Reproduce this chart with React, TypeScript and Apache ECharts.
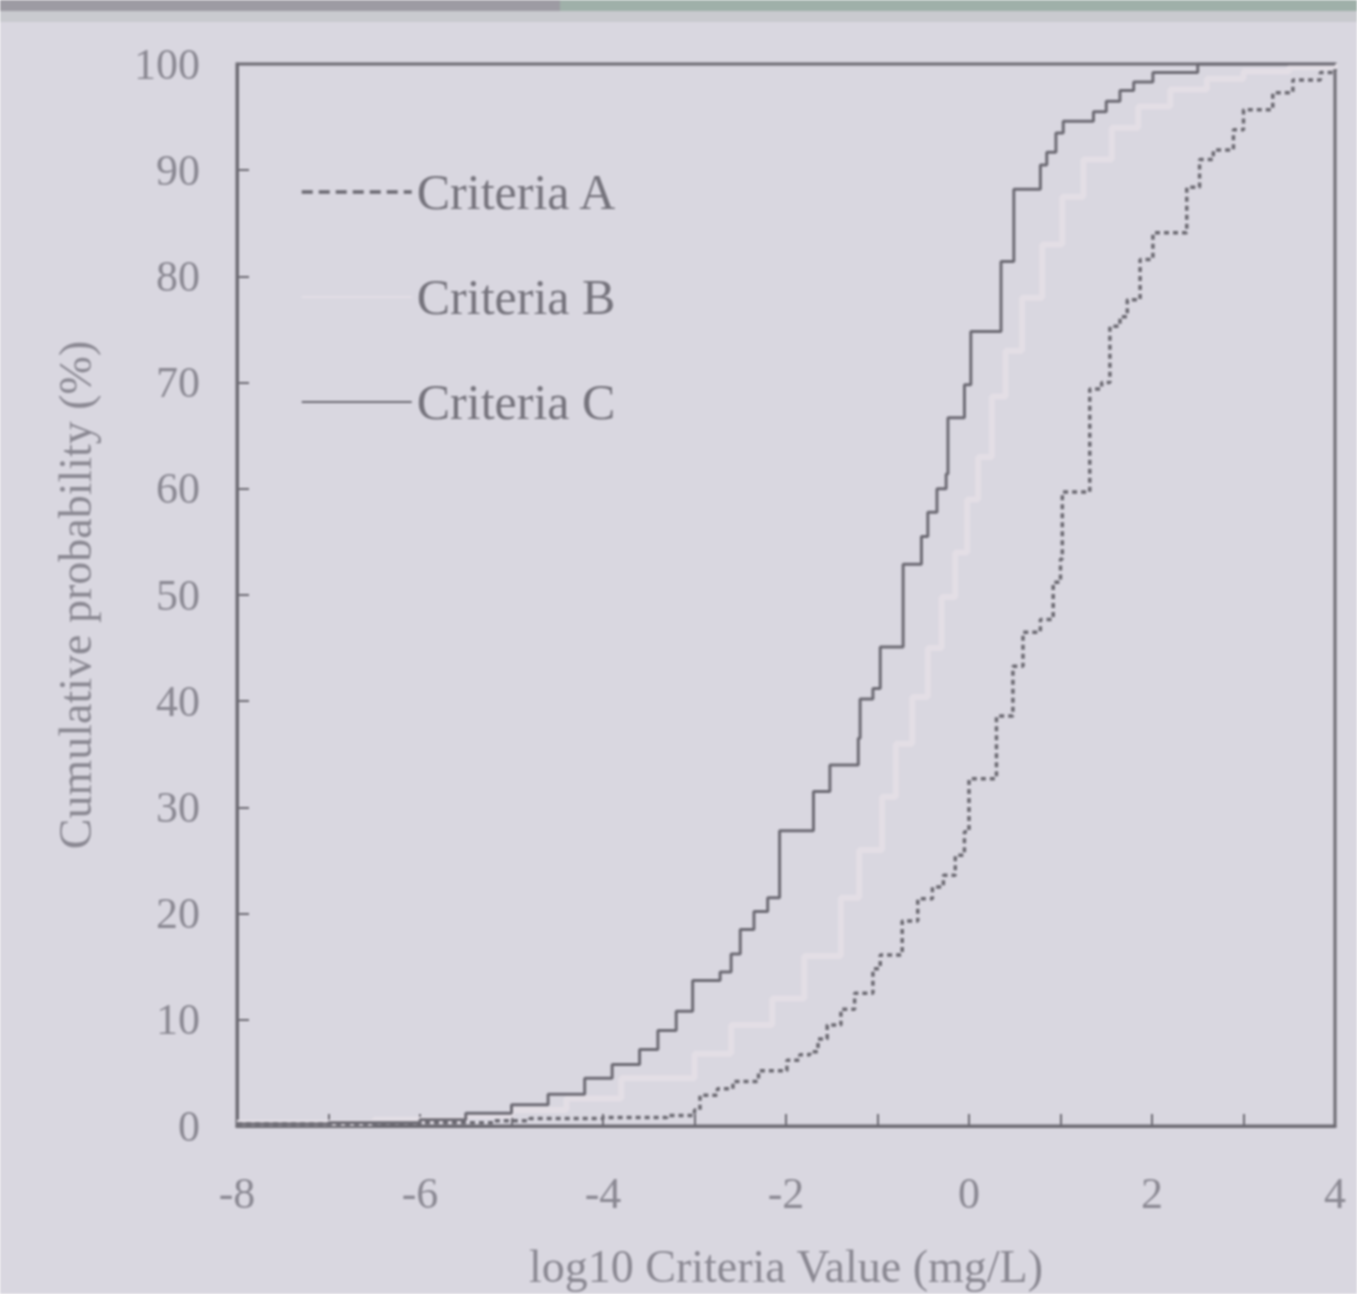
import React, { useEffect, useRef } from "react";
import * as echarts from "echarts";

const seriesNames = ["Criteria A", "Criteria B", "Criteria C"];

const xTicks = [-8, -6, -4, -2, 0, 2, 4];
const yTicks = [0, 10, 20, 30, 40, 50, 60, 70, 80, 90, 100];

// Criteria A (dashed) : [log10 value, cumulative %]
const criteriaA: [number, number][] = [
  [-8, 0.2], [-6, 0.3], [-5.2, 0.5], [-4.8, 0.7], [-4, 0.8], [-3.3, 1.0], [-3.0, 1.5],
  [-2.94, 2.9], [-2.75, 3.5], [-2.58, 4.2], [-2.3, 5.2], [-1.99, 6.2], [-1.85, 6.7],
  [-1.74, 7.0], [-1.65, 8.2], [-1.55, 9.5], [-1.4, 11.0], [-1.25, 12.5], [-1.05, 14.8],
  [-0.97, 16.1], [-0.73, 19.3], [-0.56, 21.4], [-0.4, 22.5], [-0.28, 23.6], [-0.15, 25.5],
  [-0.05, 27.7], [0.0, 32.7], [0.3, 38.6], [0.48, 43.3], [0.59, 46.5], [0.78, 47.7],
  [0.92, 51.2], [1.0, 53.4], [1.02, 59.7], [1.32, 69.4], [1.45, 70.0], [1.54, 75.3],
  [1.65, 76.2], [1.73, 77.8], [1.87, 81.6], [2.01, 84.1], [2.38, 88.4], [2.52, 91.0],
  [2.67, 91.9], [2.89, 93.8], [3.0, 95.7], [3.32, 97.3], [3.54, 98.5], [3.84, 99.2], [4.0, 99.5],
];

// Criteria B (faint light line)
const criteriaB: [number, number][] = [
  [-8, 0.3], [-6.5, 0.6], [-5.5, 1.0], [-5, 1.5], [-4.4, 2.6], [-3.8, 4.5], [-3.0, 6.8],
  [-2.6, 9.5], [-2.15, 12], [-1.8, 16], [-1.4, 21.5], [-1.2, 26], [-0.95, 31], [-0.8, 36],
  [-0.62, 40.4], [-0.45, 45], [-0.3, 49.8], [-0.15, 54], [-0.02, 59], [0.1, 63], [0.25, 68.7],
  [0.4, 73], [0.58, 78], [0.8, 83], [1.02, 87.5], [1.25, 91], [1.56, 94], [1.85, 96],
  [2.2, 97.6], [2.6, 98.6], [3, 99.3], [3.5, 99.7], [4, 100],
];

// Criteria C (solid dark)
const criteriaC: [number, number][] = [
  [-8, 0.2], [-7, 0.3], [-6, 0.6], [-5.5, 1.2], [-5.0, 2.0], [-4.6, 3.0], [-4.2, 4.5],
  [-3.9, 5.8], [-3.6, 7.2], [-3.4, 9.0], [-3.2, 10.8], [-3.02, 13.7], [-2.72, 14.5],
  [-2.6, 16.2], [-2.5, 18.5], [-2.35, 20.2], [-2.2, 21.5], [-2.07, 27.8], [-1.70, 31.5],
  [-1.52, 34.0], [-1.21, 36.5], [-1.19, 40.2], [-1.05, 41.2], [-0.97, 45.1], [-0.72, 52.9],
  [-0.52, 55.5], [-0.45, 57.8], [-0.35, 60], [-0.25, 61.4], [-0.23, 66.7], [-0.05, 69.8],
  [0.02, 74.8], [0.35, 81.4], [0.49, 88.2], [0.78, 90.5], [0.85, 91.7], [0.95, 93.5],
  [1.03, 94.6], [1.36, 95.5], [1.5, 96.5], [1.65, 97.5], [1.8, 98.3], [2.01, 99.2],
  [2.5, 100], [4, 100],
];

const FONT = "'Liberation Serif', 'DejaVu Serif', serif";
const LABEL_COLOR = "#8a8892";
const AXIS_COLOR = "#6c6a72";
const A_COLOR = "#6a6870";
const B_COLOR = "#e3dee5";
const C_COLOR = "#6c6a73";

export default function App() {
  const ref = useRef<HTMLDivElement>(null);

  useEffect(() => {
    if (!ref.current) return;
    const chart = echarts.init(ref.current, undefined, { renderer: "svg" });
    chart.setOption({
      animation: false,
      backgroundColor: "#d9d7e0",
      graphic: [
        { type: "rect", left: 0, top: 0, shape: { width: 560, height: 11 }, style: { fill: "#9d9ba3" }, silent: true },
        { type: "rect", left: 560, top: 0, shape: { width: 797, height: 12 }, style: { fill: "#9fb0a9" }, silent: true },
        { type: "rect", left: 0, top: 11, shape: { width: 1357, height: 11 }, style: { fill: "#c9cacf" }, silent: true },
      ],
      grid: {
        left: 237,
        top: 64,
        width: 1098,
        height: 1064,
        show: true,
        borderColor: AXIS_COLOR,
        borderWidth: 3,
        backgroundColor: "transparent",
      },
      legend: {
        left: 295,
        top: 162,
        orient: "vertical",
        itemWidth: 110,
        itemHeight: 20,
        itemGap: 55,
        itemStyle: { opacity: 0 },
        data: [
          { name: seriesNames[0], lineStyle: { type: [11, 6], width: 3.5 } },
          { name: seriesNames[1] },
          { name: seriesNames[2] },
        ],
        textStyle: { fontFamily: FONT, fontSize: 50, lineHeight: 50, color: "#75737c" },
      },
      xAxis: {
        type: "value",
        min: -8,
        max: 4,
        interval: 1,
        axisLine: { show: true, onZero: false, lineStyle: { color: AXIS_COLOR, width: 3 } },
        axisTick: { show: true, inside: true, length: 12, lineStyle: { color: AXIS_COLOR, width: 2 } },
        splitLine: { show: false },
        axisLabel: {
          margin: 45,
          fontFamily: FONT,
          fontSize: 44,
          color: LABEL_COLOR,
          formatter: (v: number) => (xTicks.includes(v) ? String(v) : ""),
        },
        name: "log10 Criteria Value (mg/L)",
        nameLocation: "middle",
        nameGap: 117,
        nameTextStyle: { fontFamily: FONT, fontSize: 46, color: LABEL_COLOR },
      },
      yAxis: {
        type: "value",
        min: 0,
        max: 100,
        interval: 10,
        axisLine: { show: true, onZero: false, lineStyle: { color: AXIS_COLOR, width: 3 } },
        axisTick: { show: true, inside: true, length: 12, lineStyle: { color: AXIS_COLOR, width: 2 } },
        splitLine: { show: false },
        axisLabel: {
          margin: 37,
          fontFamily: FONT,
          fontSize: 44,
          color: LABEL_COLOR,
          formatter: (v: number) => (yTicks.includes(v) ? String(v) : ""),
        },
        name: "Cumulative probability (%)",
        nameLocation: "middle",
        nameGap: 139,
        nameTextStyle: { fontFamily: FONT, fontSize: 46, color: LABEL_COLOR },
      },
      series: [
        {
          name: seriesNames[0],
          type: "line",
          step: "end",
          symbol: "none",
          data: criteriaA,
          z: 3,
          lineStyle: { color: A_COLOR, width: 3.5, type: [5, 4] },
          itemStyle: { color: A_COLOR },
        },
        {
          name: seriesNames[1],
          type: "line",
          step: "end",
          symbol: "none",
          data: criteriaB,
          z: 2,
          lineStyle: { color: B_COLOR, width: 6 },
          itemStyle: { color: B_COLOR },
        },
        {
          name: seriesNames[2],
          type: "line",
          step: "end",
          symbol: "none",
          data: criteriaC,
          z: 4,
          lineStyle: { color: C_COLOR, width: 3 },
          itemStyle: { color: C_COLOR },
        },
      ],
    });
    return () => chart.dispose();
  }, []);

  return (
    <div
      ref={ref}
      style={{
        position: "absolute",
        left: 0,
        top: 0,
        width: 1357,
        height: 1294,
        filter: "blur(1.1px)",
      }}
    />
  );
}
